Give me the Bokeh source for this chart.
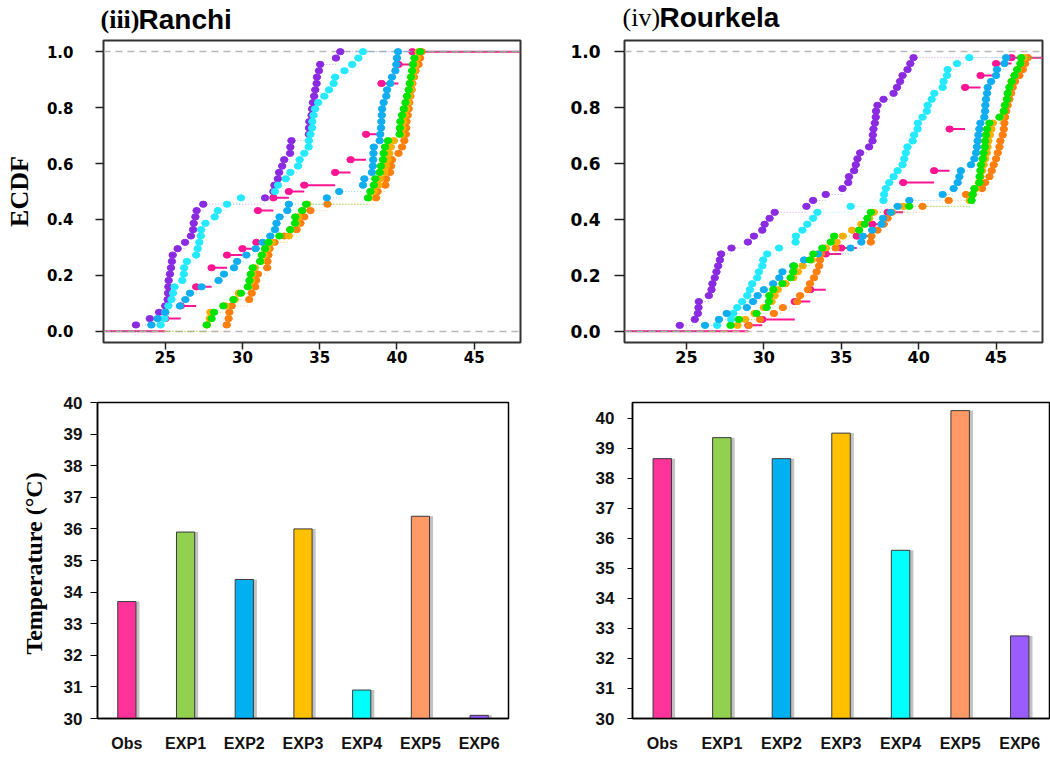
import numpy as np
from bokeh.plotting import figure
from bokeh.models import Range1d, FactorRange, FixedTicker, PrintfTickFormatter, Label, ColumnDataSource
from bokeh.layouts import column, row
from bokeh.transform import dodge
from bokeh.embed import file_html
from bokeh.resources import INLINE

series = ["Obs", "EXP1", "EXP2", "EXP3", "EXP4", "EXP5", "EXP6"]

# ---------------- ECDF samples (deg C) ----------------
ranchi_obs = [25.0, 25.0, 26.0, 26.0, 27.0, 27.0, 27.0, 28.0, 28.0, 28.0, 29.0, 29.0,
              30.0, 30.9, 31.0, 31.0, 31.0, 31.0, 31.0, 32.0, 32.0, 33.0, 34.0, 36.0,
              36.0, 37.0, 37.0, 38.0, 38.0, 38.0, 38.0, 39.0, 39.0, 39.0, 39.0, 39.0,
              39.0, 39.0, 39.0, 40.1, 40.1, 40.1, 41.0, 41.0]
ranchi_exp1 = [27.68, 28.0, 28.16, 28.76, 29.41, 29.9, 30.34, 30.45, 30.53, 30.66, 31.14,
               31.25, 31.46, 31.68, 32.39, 33.09, 33.4, 33.42, 33.86, 34.12, 38.12, 38.28,
               38.5, 38.6, 38.88, 38.97, 39.1, 39.14, 39.23, 39.42, 40.17, 40.19, 40.22,
               40.33, 40.44, 40.55, 40.65, 40.76, 40.83, 40.91, 40.98, 41.04, 41.13, 41.5]
ranchi_exp2 = [24.1, 24.5, 25.0, 25.95, 26.3, 26.6, 27.35, 28.45, 28.8, 29.45, 29.65,
               30.25, 30.85, 31.3, 31.8, 32.1, 32.2, 32.4, 32.9, 33.0, 35.46, 36.26,
               37.8, 37.89, 38.38, 38.44, 38.46, 38.48, 38.5, 38.88, 38.92, 38.97, 38.99,
               39.02, 39.04, 39.14, 39.31, 39.36, 39.57, 39.68, 39.9, 39.96, 40.0, 40.07]
ranchi_exp3 = [27.7, 27.88, 27.92, 28.9, 29.5, 29.76, 30.4, 30.58, 30.62, 30.8, 31.2,
               31.4, 31.6, 31.9, 33.0, 33.1, 33.5, 33.6, 33.9, 34.2, 38.2, 38.5, 38.8,
               38.9, 39.2, 39.3, 39.4, 39.5, 39.6, 39.8, 40.3, 40.35, 40.4, 40.5, 40.6,
               40.7, 40.8, 40.9, 40.95, 41.0, 41.1, 41.2, 41.3, 41.4]
ranchi_exp4 = [24.7, 24.95, 25.0, 25.2, 25.4, 25.5, 25.6, 26.1, 26.2, 26.22, 26.4, 27.0,
               27.1, 27.2, 27.3, 27.32, 27.6, 28.2, 28.4, 29.0, 29.9, 32.1, 32.3, 32.8,
               33.1, 33.6, 33.7, 34.0, 34.28, 34.3, 34.4, 34.5, 34.52, 34.6, 34.7, 34.9,
               35.3, 35.6, 35.9, 36.0, 36.6, 37.1, 37.5, 37.8]
ranchi_exp5 = [28.98, 29.1, 29.15, 29.3, 30.43, 30.6, 30.82, 30.88, 31.0, 31.6, 31.62,
               31.68, 31.75, 32.07, 32.7, 33.5, 33.75, 34.0, 34.4, 35.5, 38.65, 38.75,
               39.25, 39.3, 39.55, 39.62, 39.68, 40.1, 40.33, 40.48, 40.58, 40.6, 40.62,
               40.7, 40.76, 40.8, 40.87, 40.95, 41.0, 41.1, 41.2, 41.4, 41.5, 41.6]
ranchi_exp6 = [23.1, 24.0, 24.6, 25.0, 25.15, 25.18, 25.2, 25.22, 25.3, 25.37, 25.43,
               25.48, 25.8, 26.28, 26.66, 26.8, 26.84, 26.95, 27.03, 27.46, 31.46, 32.0,
               32.07, 32.29, 32.37, 32.57, 32.7, 33.08, 33.1, 33.17, 34.3, 34.31, 34.33,
               34.47, 34.51, 34.56, 34.64, 34.71, 34.8, 34.82, 34.95, 35.03, 36.05, 36.33]

rourkela_obs = [29.0, 29.9, 32.0, 32.0, 32.0, 33.0, 33.0, 34.0, 34.0, 34.0, 34.0, 34.0,
                34.0, 35.0, 36.0, 36.0, 37.0, 37.0, 38.0, 38.0, 39.0, 39.0, 39.0, 39.0,
                39.0, 41.0, 41.0, 42.0, 42.0, 42.0, 42.0, 42.0, 42.0, 42.0, 43.0, 43.0,
                43.0, 43.0, 43.0, 43.0, 43.0, 44.0, 44.0, 45.0, 45.0, 46.0]
rourkela_exp1 = [27.85, 28.39, 29.53, 30.18, 30.33, 30.35, 30.61, 31.2, 31.73, 31.9, 31.95,
                 32.98, 33.2, 33.78, 34.32, 34.54, 36.15, 36.52, 36.69, 36.91, 39.39, 43.42,
                 43.49, 43.6, 43.92, 43.94, 43.99, 44.03, 44.14, 44.2, 44.28, 44.3, 44.35,
                 44.42, 44.57, 45.22, 45.5, 45.58, 45.71, 45.75, 45.86, 46.01, 46.19, 46.36,
                 46.57, 46.62]
rourkela_exp2 = [26.2, 27.1, 27.6, 28.9, 29.3, 29.6, 30.0, 30.6, 31.0, 31.2, 31.9, 32.6,
                 33.5, 35.6, 36.3, 36.4, 37.0, 37.6, 37.7, 38.2, 38.64, 39.4, 41.55, 42.26,
                 42.52, 42.63, 42.73, 43.38, 43.6, 43.71, 43.77, 43.81, 43.86, 43.92, 43.99,
                 44.24, 44.29, 44.31, 44.35, 44.42, 44.46, 44.68, 45.0, 45.06, 45.54, 45.65]
rourkela_exp3 = [28.3, 28.8, 29.4, 30.0, 30.5, 30.7, 30.9, 31.4, 31.9, 32.2, 32.5, 33.1,
                 33.5, 34.0, 34.7, 35.1, 35.7, 36.3, 36.8, 37.1, 39.0, 43.3, 43.5, 43.7,
                 43.9, 44.0, 44.1, 44.2, 44.3, 44.4, 44.45, 44.5, 44.6, 44.7, 44.8, 45.3,
                 45.5, 45.6, 45.7, 45.8, 45.9, 46.0, 46.2, 46.4, 46.6, 46.8]
rourkela_exp4 = [26.98, 27.89, 28.02, 28.28, 28.6, 28.93, 29.1, 29.25, 29.57, 29.68, 29.9,
                 29.96, 30.22, 30.98, 32.05, 32.07, 32.49, 32.81, 33.18, 33.46, 35.61, 37.73,
                 37.77, 37.88, 38.1, 38.38, 38.64, 38.96, 39.07, 39.17, 39.28, 39.61, 39.71,
                 39.93, 39.95, 40.25, 40.53, 40.58, 40.84, 41.01, 41.55, 41.61, 41.83, 41.87,
                 42.48, 43.27]
rourkela_exp5 = [29.03, 29.75, 30.65, 31.23, 32.16, 32.34, 32.85, 32.98, 33.24, 33.41, 33.57,
                 33.63, 33.7, 34.64, 36.91, 36.95, 37.34, 37.73, 37.99, 38.27, 40.25, 41.94,
                 43.06, 44.1, 44.3, 44.57, 44.72, 44.85, 45.0, 45.11, 45.22, 45.28, 45.43,
                 45.5, 45.54, 45.58, 45.65, 45.75, 45.86, 45.97, 46.08, 46.23, 46.51, 46.73,
                 46.88, 47.05]
rourkela_exp6 = [24.57, 25.54, 25.74, 25.78, 25.8, 26.45, 26.62, 26.68, 26.83, 26.94, 27.05,
                 27.16, 27.24, 27.91, 28.97, 29.36, 29.9, 30.05, 30.37, 30.7, 32.75, 33.18,
                 34.0, 35.08, 35.45, 35.5, 35.83, 35.94, 36.05, 36.22, 36.8, 37.02, 37.04,
                 37.08, 37.17, 37.23, 37.25, 37.34, 37.73, 38.38, 38.6, 38.8, 38.96, 39.28,
                 39.46, 39.67]

# ---------------- mean temperature bars ----------------
ranchi_mean = [33.7, 35.9, 34.4, 36.0, 30.9, 36.4, 30.1]
rourkela_mean = [38.65, 39.35, 38.65, 39.5, 35.6, 40.25, 32.75]

ecdf_ticks_x = [25, 30, 35, 40, 45]
ecdf_ticks_y = [0.0, 0.2, 0.4, 0.6, 0.8, 1.0]
bar_ticks_y = list(range(30, 41))

ECDF_COLORS = {"Obs": "#ff1493", "EXP1": "#00e400", "EXP2": "#10aef0", "EXP3": "#ffad00",
               "EXP4": "#25e9ff", "EXP5": "#ff7f0e", "EXP6": "#8a2be2"}
BAR_COLORS = ["#ff3399", "#92d050", "#00b0f0", "#ffc000", "#00ffff", "#ff9966", "#9b5cff"]
DRAW_ORDER = ["Obs", "EXP6", "EXP5", "EXP4", "EXP3", "EXP2", "EXP1"]
X_LO, X_HI = 21.0, 48.0
Y_LO, Y_HI = -0.04, 1.04


def ecdf_figure(vals, extra_den, w, h, bl, br, bt, bb, tick_size_y, tick_size_x, y_out, y_standoff):
    p = figure(width=w, height=h, x_range=Range1d(X_LO, X_HI), y_range=Range1d(Y_LO, Y_HI),
               output_backend="svg", toolbar_location=None,
               min_border_left=bl, min_border_right=br, min_border_top=bt, min_border_bottom=bb)
    p.grid.visible = False
    p.outline_line_color = "#333333"
    p.outline_line_width = 2
    for name in DRAW_ORDER:
        v = np.sort(np.asarray(vals[name], float))
        den = len(v) + extra_den
        u, cnt = np.unique(v, return_counts=True)
        lev = np.cumsum(cnt) / den
        x0 = np.r_[X_LO, u]
        x1 = np.r_[u, X_HI]
        yy = np.r_[0.0, lev]
        c = ECDF_COLORS[name]
        if name == "Obs":
            p.segment(x0, yy, x1, yy, line_color=c, line_width=2)
        else:
            p.segment(x0, yy, x1, yy, line_color=c, line_width=1, line_dash="1 2", line_alpha=0.45)
        p.ellipse(u, lev, width=7.5, height=6.2, width_units="screen", height_units="screen",
                  fill_color=c, line_color=c)
        if name == "Obs":
            p.hspan(y=[0, 1], line_color="#b8b8b8", line_width=1.5, line_dash="7 5")
    p.xaxis.ticker = FixedTicker(ticks=ecdf_ticks_x)
    p.yaxis.ticker = FixedTicker(ticks=ecdf_ticks_y)
    p.yaxis.formatter = PrintfTickFormatter(format="%.1f")
    for ax in p.axis:
        ax.axis_line_color = None
        ax.major_tick_in = 0
        ax.minor_tick_line_color = None
        ax.major_tick_line_color = "#222222"
        ax.major_tick_line_width = 1.5
        ax.major_label_text_font = "DejaVu Sans"
        ax.major_label_text_font_style = "bold"
        ax.major_label_text_color = "black"
    p.yaxis.major_tick_out = y_out
    p.yaxis.major_label_standoff = y_standoff
    p.yaxis.major_label_text_font_size = tick_size_y
    p.xaxis.major_tick_out = 7
    p.xaxis.major_label_standoff = 1
    p.xaxis.major_label_text_font_size = tick_size_x
    return p


def bar_figure(values, ymax, w, h, bl, br, bt, bb, y_out, y_standoff, x_standoff):
    p = figure(width=w, height=h, x_range=FactorRange(*series), y_range=Range1d(30, ymax),
               output_backend="svg", toolbar_location=None,
               min_border_left=bl, min_border_right=br, min_border_top=bt, min_border_bottom=bb)
    p.grid.visible = False
    src = ColumnDataSource(dict(cat=series, val=values, color=BAR_COLORS))
    p.vbar(x=dodge("cat", 0.06, range=p.x_range), top="val", bottom=30, width=0.31,
           fill_color="#666666", fill_alpha=0.4, line_color=None, source=src)
    p.vbar(x="cat", top="val", bottom=30, width=0.31, fill_color="color",
           line_color="#3a3a3a", line_width=1, source=src)
    p.outline_line_color = "black"
    p.outline_line_width = 1.5
    p.yaxis.ticker = FixedTicker(ticks=bar_ticks_y)
    for ax in p.axis:
        ax.axis_line_color = "black"
        ax.axis_line_width = 1.5
        ax.minor_tick_line_color = None
        ax.major_tick_in = 0
        ax.major_label_text_font = "Liberation Sans"
        ax.major_label_text_font_style = "bold"
        ax.major_label_text_color = "#111111"
    p.yaxis.major_tick_out = y_out
    p.yaxis.major_tick_line_color = "black"
    p.yaxis.major_label_standoff = y_standoff
    p.yaxis.major_label_text_font_size = "17px"
    p.xaxis.major_tick_line_color = None
    p.xaxis.major_tick_out = 0
    p.xaxis.major_label_standoff = x_standoff
    p.xaxis.axis_label_standoff = 0
    p.xaxis.major_label_text_font_size = "16px"
    return p


ranchi_vals = dict(zip(series, [ranchi_obs, ranchi_exp1, ranchi_exp2, ranchi_exp3,
                                ranchi_exp4, ranchi_exp5, ranchi_exp6]))
rourkela_vals = dict(zip(series, [rourkela_obs, rourkela_exp1, rourkela_exp2, rourkela_exp3,
                                  rourkela_exp4, rourkela_exp5, rourkela_exp6]))

# title strip: its frame is the whole strip, coordinates are page pixels (y downward)
TITLE_H = 36
pt = figure(width=1050, height=TITLE_H, x_range=Range1d(0, 1050), y_range=Range1d(TITLE_H, 0),
            x_axis_type=None, y_axis_type=None, output_backend="svg", toolbar_location=None,
            min_border=0)
pt.grid.visible = False
pt.outline_line_color = None
common = dict(text_baseline="middle", text_color="black")
pt.add_layout(Label(x=100, y=19, text="(iii)", text_font="Liberation Serif", text_font_style="bold",
                    text_font_size="26px", **common))
pt.add_layout(Label(x=138, y=19, text="Ranchi", text_font="Liberation Sans", text_font_style="bold",
                    text_font_size="28px", **common))
pt.add_layout(Label(x=622, y=17, text="(iv)", text_font="Liberation Serif",
                    text_font_size="26px", **common))
pt.add_layout(Label(x=659, y=17, text="Rourkela", text_font="Liberation Sans", text_font_style="bold",
                    text_font_size="28px", **common))

# top-left: Ranchi ECDF (frame 417 x 302, top at page y 40)
pa = ecdf_figure(ranchi_vals, 0, 540, 372 - TITLE_H, 103, 20, 40 - TITLE_H, 30, "15px", "15px", 8, 22)
pa.yaxis.axis_label = "ECDF"
pa.yaxis.axis_label_text_font = "Liberation Serif"
pa.yaxis.axis_label_text_font_style = "bold"
pa.yaxis.axis_label_text_font_size = "26px"
pa.yaxis.axis_label_text_color = "black"
pa.yaxis.axis_label_standoff = 10

# top-right: Rourkela ECDF (plotting positions k/(n+1)); frame 418 x 306, top at page y 37
pb = ecdf_figure(rourkela_vals, 1, 510, 372 - TITLE_H, 84, 8, 37 - TITLE_H, 29, "17px", "16px", 10, 14)

# bottom-left: Ranchi bars
pc = bar_figure(ranchi_mean, 40, 540, 389, 97, 32, 28, 43, 7, 8, 16)
pc.yaxis.axis_label = "Temperature  (\u00b0C)"
pc.yaxis.axis_label_text_font = "Liberation Serif"
pc.yaxis.axis_label_text_font_style = "bold"
pc.yaxis.axis_label_text_font_size = "24px"
pc.yaxis.axis_label_text_color = "black"
pc.yaxis.axis_label_standoff = 14

# bottom-right: Rourkela bars
pd_ = bar_figure(rourkela_mean, 40.52, 510, 389, 92, 1, 30, 37, 5, 13, 16)

layout = column(pt, row(pa, pb), row(pc, pd_))
open("out.html", "w").write(file_html(layout, INLINE))
